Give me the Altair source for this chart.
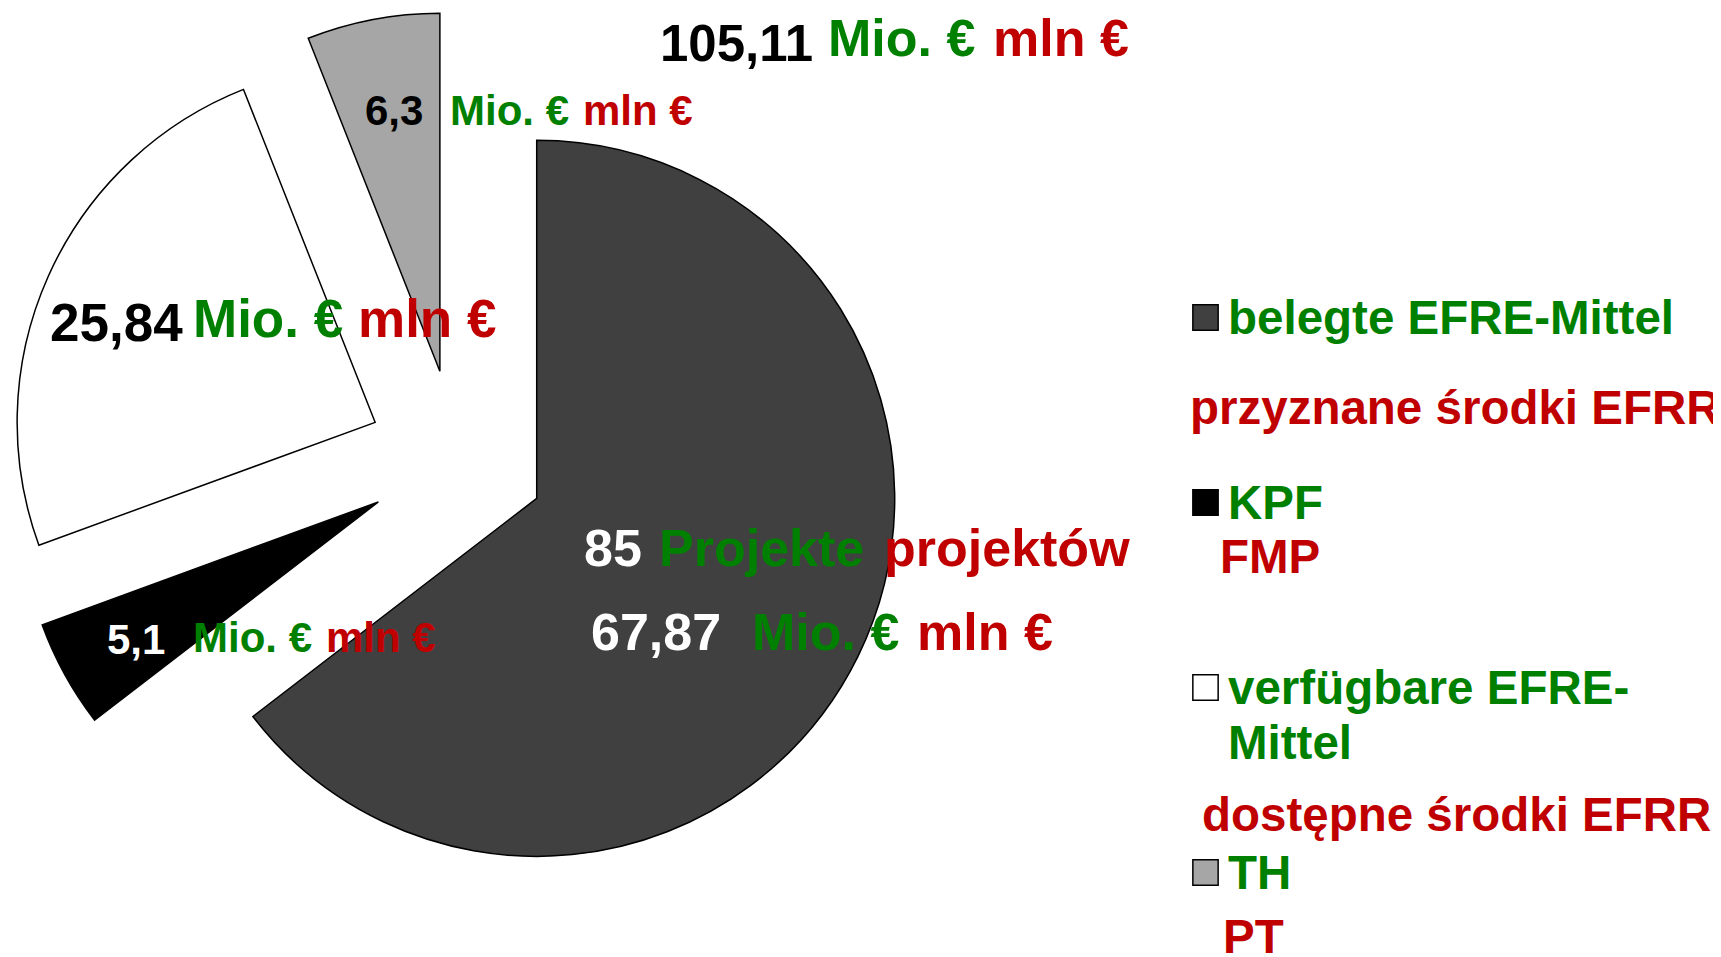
import altair as alt
import pandas as pd

FONT = "Liberation Sans"
GREEN = "#008000"
RED = "#c00000"

# ---- data ----
categories_de = ["belegte EFRE-Mittel", "KPF", "verfügbare EFRE-Mittel", "TH"]
categories_pl = ["przyznane środki EFRR", "FMP", "dostępne środki EFRR", "PT"]
values = [67.87, 5.1, 25.84, 6.3]
fills = ["#404040", "#000000", "#ffffff", "#a6a6a6"]
projects = 85
unit_de = "Mio. €"
unit_pl = "mln €"
projects_de = "Projekte"
projects_pl = "projektów"


def fmt(v):
    return f"{v:g}".replace(".", ",")


total = round(sum(values), 2)

# ---- layout constants (chart pixel space) ----
OFF = 8
CX, CY = 456.6 - OFF, 458.9 - OFF
R = 358
EXPLODE = 89.3
LEG_X = 1205.5 - OFF
LEG_Y0 = 317.5 - OFF
LEG_DY = 185
LEG_FS = 47.5

pie_df = pd.DataFrame({"cat": categories_de, "value": values, "fill": fills,
                       "order": list(range(len(values)))})

pie = (
    alt.Chart(pie_df)
    .transform_window(cum="sum(value)", sort=[alt.SortField("order")], frame=[None, 0])
    .transform_joinaggregate(total="sum(value)")
    .transform_calculate(
        a0="2*PI*(datum.cum-datum.value)/datum.total",
        a1="2*PI*datum.cum/datum.total",
    )
    .transform_calculate(mid="(datum.a0+datum.a1)/2")
    .transform_calculate(
        px=f"{CX}+{EXPLODE}*sin(datum.mid)",
        py=f"{CY}-{EXPLODE}*cos(datum.mid)",
    )
    .mark_arc(radius=R, stroke="black", strokeWidth=1.5, strokeJoin="miter")
    .encode(
        x=alt.X("px:Q", scale=None, axis=None),
        y=alt.Y("py:Q", scale=None, axis=None),
        theta=alt.Theta("a0:Q", scale=None, stack=None),
        theta2="a1:Q",
        fill=alt.Fill("fill:N", scale=None),
    )
)

legend_sq = (
    alt.Chart(pie_df)
    .transform_calculate(ly=f"{LEG_Y0}+{LEG_DY}*datum.order")
    .mark_square(size=640, stroke="black", strokeWidth=1.5, fillOpacity=1)
    .encode(
        x=alt.value(LEG_X),
        y=alt.Y("ly:Q", scale=None, axis=None),
        fill=alt.Fill("fill:N", scale=None),
    )
)


def txt(s, x, y, color, size):
    return (
        alt.Chart(pd.DataFrame({"t": [s]}))
        .mark_text(x=x - OFF, y=y - OFF, align="left", baseline="alphabetic",
                   font=FONT, fontWeight="bold", fontSize=size, color=color)
        .encode(text="t:N")
    )


texts = [
    # total
    txt(fmt(total), 660, 61, "black", 51),
    txt(unit_de, 828, 56, GREEN, 52),
    txt(unit_pl, 993, 56, RED, 52),
    # TH slice
    txt(fmt(values[3]), 365, 125, "black", 42),
    txt(unit_de, 450, 125, GREEN, 42),
    txt(unit_pl, 583, 125, RED, 42),
    # available slice
    txt(fmt(values[2]), 50, 341, "black", 53),
    txt(unit_de, 193, 337, GREEN, 53),
    txt(unit_pl, 358, 337, RED, 53),
    # KPF slice
    txt(fmt(values[1]), 107, 654, "white", 42),
    txt(unit_de, 193, 652, GREEN, 42),
    txt(unit_pl, 326, 652, RED, 42),
    # allocated slice
    txt(str(projects), 584, 566, "white", 52),
    txt(projects_de, 659, 566, GREEN, 52),
    txt(projects_pl, 884, 566, RED, 52),
    txt(fmt(values[0]), 591, 650, "white", 52),
    txt(unit_de, 752, 650, GREEN, 52),
    txt(unit_pl, 917, 650, RED, 52),
    # legend
    txt(categories_de[0], 1228, 334, GREEN, LEG_FS),
    txt(categories_pl[0], 1190, 424, RED, LEG_FS),
    txt(categories_de[1], 1228, 519, GREEN, LEG_FS),
    txt(categories_pl[1], 1220, 573, RED, LEG_FS),
    txt("verfügbare EFRE-", 1228, 704, GREEN, LEG_FS),
    txt("Mittel", 1228, 759, GREEN, LEG_FS),
    txt(categories_pl[2], 1202, 831, RED, LEG_FS),
    txt(categories_de[3], 1228, 889, GREEN, LEG_FS),
    txt(categories_pl[3], 1223, 953, RED, LEG_FS),
]

chart = (
    alt.layer(pie, legend_sq, *texts)
    .properties(width=1705, height=949, padding=0, autosize="none")
    .configure_view(stroke=None)
)

chart.save("out.html", embed_options={"renderer": "svg", "actions": False})
